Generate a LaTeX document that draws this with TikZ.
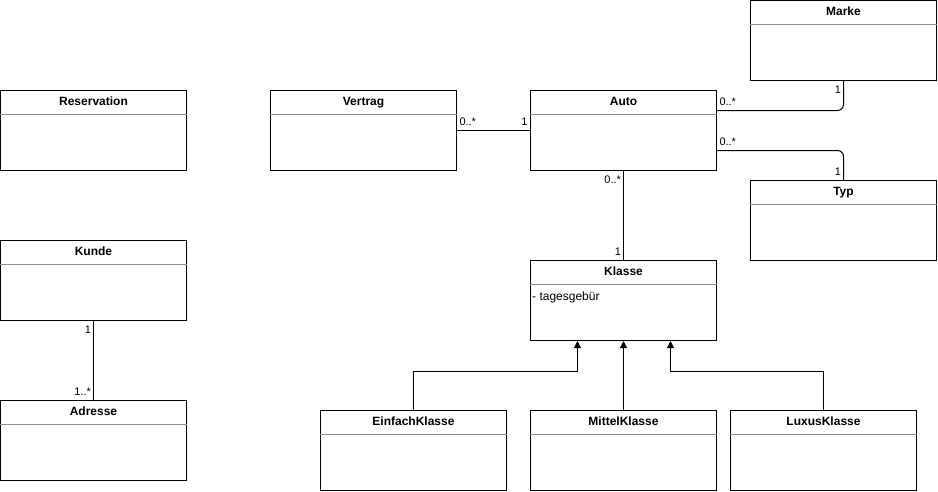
\documentclass[tikz,border=0pt]{standalone}
\usepackage{fontspec}
\setmainfont{Liberation Sans}
\usetikzlibrary{arrows.meta}

\begin{document}
\begin{tikzpicture}
	[x=1pt,y=-1pt,
	cls/.style={draw=black,line width=1pt,minimum width=186pt,minimum height=80pt,inner sep=0pt,fill=white},
	title/.style={font=\fontsize{12}{14}\selectfont\bfseries,inner sep=0pt,text height=9pt,text depth=2.5pt},
	attr/.style={font=\fontsize{12}{14}\selectfont,inner sep=0pt,anchor=west,text height=9pt,text depth=2.5pt},
	sep/.style={line width=1pt,black!45},
	assoc/.style={line width=1pt,black},
	inherit/.style={line width=1pt,black,-{Triangle[length=7pt,width=7pt]}},
	mult/.style={font=\fontsize{11}{13}\selectfont,inner xsep=2pt,inner ysep=4.5pt}]
	\useasboundingbox (-0.5,-0.5) rectangle (937.5,490.5);

	% classes
	\node[cls] (reservation) at (93,130) {};
	\node[cls] (kunde) at (93,280) {};
	\node[cls] (adresse) at (93,440) {};
	\node[cls] (vertrag) at (363,130) {};
	\node[cls] (auto) at (623,130) {};
	\node[cls] (marke) at (843,40) {};
	\node[cls] (typ) at (843,220) {};
	\node[cls] (klasse) at (623,300) {};
	\node[cls] (einfach) at (413,450) {};
	\node[cls] (mittel) at (623,450) {};
	\node[cls] (luxus) at (823,450) {};

	% headers
	\node[title] (reservation-t) at ([yshift=-12pt]reservation.north) {Reservation};
	\draw[sep] ([yshift=-24pt]reservation.north west) -- ([yshift=-24pt]reservation.north east);
	\node[title] (kunde-t) at ([yshift=-12pt]kunde.north) {Kunde};
	\draw[sep] ([yshift=-24pt]kunde.north west) -- ([yshift=-24pt]kunde.north east);
	\node[title] (adresse-t) at ([yshift=-12pt]adresse.north) {Adresse};
	\draw[sep] ([yshift=-24pt]adresse.north west) -- ([yshift=-24pt]adresse.north east);
	\node[title] (vertrag-t) at ([yshift=-12pt]vertrag.north) {Vertrag};
	\draw[sep] ([yshift=-24pt]vertrag.north west) -- ([yshift=-24pt]vertrag.north east);
	\node[title] (auto-t) at ([yshift=-12pt]auto.north) {Auto};
	\draw[sep] ([yshift=-24pt]auto.north west) -- ([yshift=-24pt]auto.north east);
	\node[title] (marke-t) at ([yshift=-12pt]marke.north) {Marke};
	\draw[sep] ([yshift=-24pt]marke.north west) -- ([yshift=-24pt]marke.north east);
	\node[title] (typ-t) at ([yshift=-12pt]typ.north) {Typ};
	\draw[sep] ([yshift=-24pt]typ.north west) -- ([yshift=-24pt]typ.north east);
	\node[title] (klasse-t) at ([yshift=-12pt]klasse.north) {Klasse};
	\draw[sep] ([yshift=-24pt]klasse.north west) -- ([yshift=-24pt]klasse.north east);
	\node[attr] (klasse-a) at ([xshift=2pt,yshift=-37pt]klasse.north west) {- tagesgebür};
	\node[title] (einfach-t) at ([yshift=-12pt]einfach.north) {EinfachKlasse};
	\draw[sep] ([yshift=-24pt]einfach.north west) -- ([yshift=-24pt]einfach.north east);
	\node[title] (mittel-t) at ([yshift=-12pt]mittel.north) {MittelKlasse};
	\draw[sep] ([yshift=-24pt]mittel.north west) -- ([yshift=-24pt]mittel.north east);
	\node[title] (luxus-t) at ([yshift=-12pt]luxus.north) {LuxusKlasse};
	\draw[sep] ([yshift=-24pt]luxus.north west) -- ([yshift=-24pt]luxus.north east);

	% associations
	\draw[assoc] (vertrag.east) -- (auto.west)
		node[mult,pos=0,above right] (m-va) {0..*}
		node[mult,pos=1,above left] (m-av) {1};
	\draw[assoc,rounded corners=6pt] ([yshift=20pt]auto.east) -| (marke.south)
		node[mult,pos=0,above right] (m-am) {0..*}
		node[mult,pos=1,below left] (m-ma) {1};
	\draw[assoc,rounded corners=6pt] ([yshift=-20pt]auto.east) -| (typ.north)
		node[mult,pos=0,above right] (m-at) {0..*}
		node[mult,pos=1,above left] (m-ta) {1};
	\draw[assoc] (auto.south) -- (klasse.north)
		node[mult,pos=0,below left] (m-ak) {0..*}
		node[mult,pos=1,above left] (m-ka) {1};
	\draw[assoc] (kunde.south) -- (adresse.north)
		node[mult,pos=0,below left] (m-kd) {1}
		node[mult,pos=1,above left] (m-dk) {1..*};

	% generalisation
	\coordinate (kl-l) at ([xshift=-46pt]klasse.south);
	\coordinate (kl-r) at ([xshift=47pt]klasse.south);
	\draw[inherit] (einfach.north) |- ([yshift=-30pt]kl-l) -- (kl-l);
	\draw[inherit] (mittel.north) -- (klasse.south);
	\draw[inherit] (luxus.north) |- ([yshift=-30pt]kl-r) -- (kl-r);
\end{tikzpicture}
\end{document}
